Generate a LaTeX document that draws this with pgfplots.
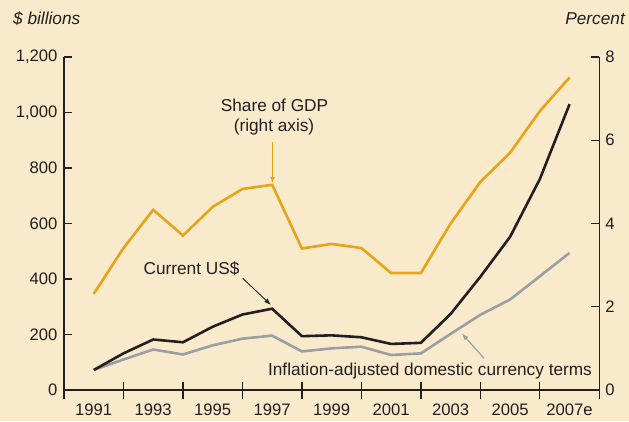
\documentclass[border=0pt]{standalone}
\usepackage{pgfplots}
\pgfplotsset{compat=1.18}
\usepackage{fontspec}
\setmainfont{Liberation Sans}
\usetikzlibrary{arrows.meta}
\definecolor{bg}{RGB}{249,234,204}
\definecolor{gold}{RGB}{232,163,23}
\definecolor{gr}{RGB}{155,158,162}
\definecolor{blk}{RGB}{35,31,32}
\newcommand{\lf}{\fontsize{16.7}{19}\selectfont}
\newcommand{\af}{\fontsize{17.3}{20}\selectfont}
\begin{document}
\begin{tikzpicture}[x=1bp,y=1bp,font=\af]
\path[use as bounding box,fill=bg] (0,0) rectangle (629,421);
% left axis with black and gray series
\begin{axis}[
  at={(64bp,31bp)}, anchor=south west, scale only axis,
  width=535.3bp, height=333bp,
  xmin=1990, xmax=2008, ymin=0, ymax=1200,
  axis x line*=bottom, axis y line*=left,
  axis line style={blk, line width=1.3bp},
  xtick={1991,1993,...,2007},
  xticklabels={1991,1993,1995,1997,1999,2001,2003,2005,2007e},
  xtick style={draw=none},
  xticklabel style={font=\lf, text=blk, yshift=-10bp},
  ytick={0,200,...,1200},
  yticklabels={0,200,400,600,800,{1,000},{1,200}},
  yticklabel style={font=\lf, text=blk, xshift=-3bp},
  ytick align=inside, major tick length=8bp,
  ytick style={blk, line width=1.3bp},
  clip=false,
]
\addplot[gr, line width=2.6bp] coordinates {
(1991,72) (1992,110) (1993,146) (1994,128) (1995,161) (1996,185) (1997,196)
(1998,139) (1999,150) (2000,156) (2001,126) (2002,132) (2003,202) (2004,271)
(2005,326) (2006,410) (2007,494)};
\addplot[blk, line width=2.6bp] coordinates {
(1991,72) (1992,132) (1993,182) (1994,172) (1995,228) (1996,272) (1997,293)
(1998,194) (1999,197) (2000,190) (2001,166) (2002,170) (2003,274) (2004,408)
(2005,552) (2006,760) (2007,1030)};
\end{axis}
% right axis with share of GDP
\begin{axis}[
  at={(64bp,31bp)}, anchor=south west, scale only axis,
  width=535.3bp, height=333bp,
  xmin=1990, xmax=2008, ymin=0, ymax=8,
  axis x line=none, axis y line*=right,
  axis line style={blk, line width=1.3bp},
  ytick={0,2,...,8},
  yticklabels={0,2,4,6,8},
  yticklabel style={font=\lf, text=blk, xshift=2.5bp},
  ytick align=inside, major tick length=8bp,
  ytick style={blk, line width=1.3bp},
  clip=false,
]
\addplot[gold, line width=2.6bp] coordinates {
(1991,2.31) (1992,3.41) (1993,4.33) (1994,3.71) (1995,4.40) (1996,4.83) (1997,4.93)
(1998,3.40) (1999,3.51) (2000,3.41) (2001,2.81) (2002,2.81) (2003,4.00) (2004,5.00)
(2005,5.70) (2006,6.70) (2007,7.51)};
\end{axis}
% x ticks crossing the axis
\begin{axis}[
  at={(64bp,31bp)}, anchor=south west, scale only axis,
  width=535.3bp, height=333bp,
  xmin=1990, xmax=2008, ymin=0, ymax=1,
  axis x line*=bottom, axis y line=none,
  axis line style={blk, line width=1.3bp},
  xtick={1990,1992,...,2008}, xticklabels={},
  xtick align=center, major tick length=17bp,
  xtick style={blk, line width=1.3bp},
]
\end{axis}
% titles and annotations
\node[anchor=base west, inner sep=0, text=blk] at (13,396) {\itshape \$ billions};
\node[anchor=base east, inner sep=0, text=blk] at (625,396) {\itshape Percent};
\node[anchor=base, inner sep=0, text=blk] at (274.5,310) {Share of GDP};
\node[anchor=base, inner sep=0, text=blk] at (274,290) {(right axis)};
\draw[gold, line width=1.2bp, -{Latex[length=6bp,width=5bp]}] (272.5,279) -- (272.5,238);
\node[anchor=base, inner sep=0, text=blk] at (191.5,147) {Current US\$};
\draw[blk, line width=0.9bp, -{Latex[length=7bp,width=5bp]}] (242.7,142.7) -- (271,116);
\node[anchor=base, inner sep=0, text=blk] at (430,46) {Inflation-adjusted domestic currency terms};
\draw[gr, line width=1.2bp, -{Latex[length=7bp,width=5bp]}] (484,62.7) -- (461.7,87.7);
\end{tikzpicture}
\end{document}
